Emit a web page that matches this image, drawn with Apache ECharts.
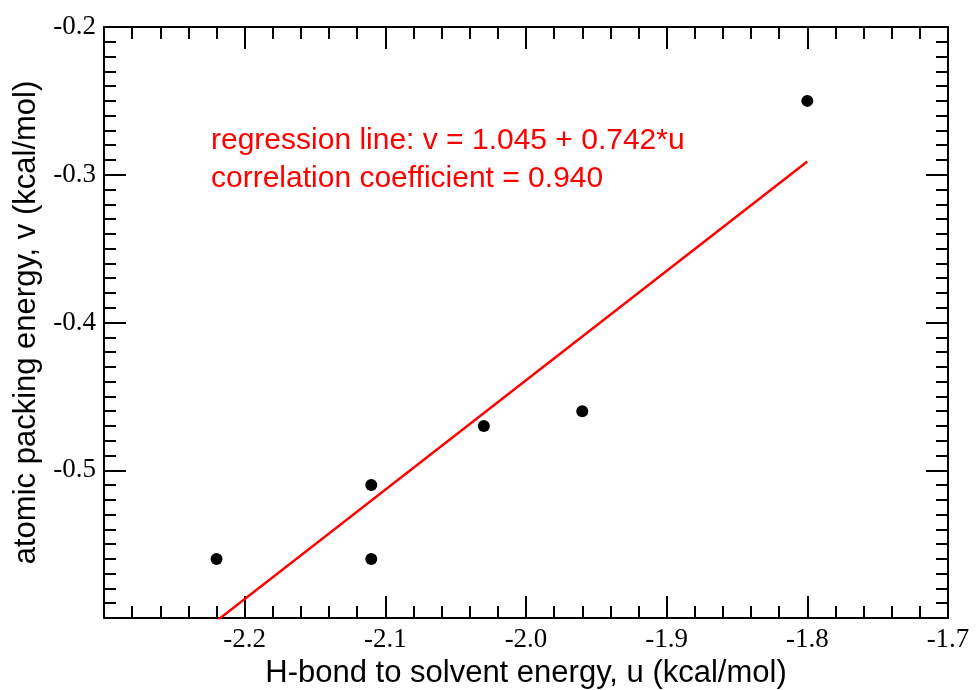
<!DOCTYPE html>
<html>
<head>
<meta charset="utf-8">
<script src="https://cdn.jsdelivr.net/npm/echarts@6/dist/echarts.min.js"></script>
<style>html,body{margin:0;padding:0;background:#fff}#c{width:976px;height:690px}</style>
</head>
<body>
<div id="c"></div>
<script>
// Data points (u, v)
const uValues = [-2.22, -2.11, -2.11, -2.03, -1.96, -1.80];
const vValues = [-0.56, -0.51, -0.56, -0.47, -0.46, -0.25];
// Regression line endpoints
const lineU = [-2.22, -1.80];
const lineV = [-0.602, -0.291];
const xTitle = 'H-bond to solvent energy, u (kcal/mol)';
const yTitle = 'atomic packing energy, v (kcal/mol)';
const annot1 = 'regression line: v = 1.045 + 0.742*u';
const annot2 = 'correlation coefficient = 0.940';

const pts = uValues.map((u, i) => [u, vValues[i]]);
const reg = lineU.map((u, i) => [u, lineV[i]]);

const chart = echarts.init(document.getElementById('c'));
const serif = 'Liberation Serif';
const sans = 'Liberation Sans';
const axisLine = {show: true, lineStyle: {color: '#000', width: 2}};
function xAx(pos, labels) {
  return {
    type: 'value', position: pos, min: -2.3, max: -1.7, interval: 0.1,
    axisLine: axisLine,
    axisTick: {show: true, inside: true, length: 22, lineStyle: {color: '#000', width: 2}},
    minorTick: {show: true, splitNumber: 5, length: 12, lineStyle: {color: '#000', width: 2}},
    splitLine: {show: false}, minorSplitLine: {show: false},
    axisLabel: {show: labels, color: '#000', fontFamily: serif, fontSize: 27, margin: 8,
      formatter: v => v < -2.29 ? '' : v.toFixed(1)},
    name: labels ? xTitle : '', nameLocation: 'middle', nameGap: 34,
    nameTextStyle: {fontFamily: sans, fontSize: 31, color: '#000'}
  };
}
function yAx(pos, labels) {
  return {
    type: 'value', position: pos, min: -0.6, max: -0.2, interval: 0.1,
    axisLine: axisLine,
    axisTick: {show: true, inside: true, length: 22, lineStyle: {color: '#000', width: 2}},
    minorTick: {show: true, splitNumber: 10, length: 12, lineStyle: {color: '#000', width: 2}},
    splitLine: {show: false}, minorSplitLine: {show: false},
    axisLabel: {show: labels, color: '#000', fontFamily: serif, fontSize: 27, margin: 8,
      formatter: v => v < -0.59 ? '' : v.toFixed(1)},
    name: labels ? yTitle : '', nameLocation: 'middle', nameGap: 50, nameRotate: 90,
    nameTextStyle: {fontFamily: sans, fontSize: 31, color: '#000'}
  };
}
chart.setOption({
  animation: false,
  backgroundColor: '#fff',
  grid: {left: 104, top: 27, width: 844, height: 591, containLabel: false, outerBoundsMode: 'none'},
  xAxis: [xAx('bottom', true), xAx('top', false)],
  yAxis: [yAx('left', true), yAx('right', false)],
  graphic: [
    {type: 'text', left: 211, top: 126, style: {text: annot1, fill: '#ff0000', font: '30px "Liberation Sans"'}},
    {type: 'text', left: 211, top: 164, style: {text: annot2, fill: '#ff0000', font: '30px "Liberation Sans"'}}
  ],
  series: [
    {type: 'line', data: reg, xAxisIndex: 0, yAxisIndex: 0, showSymbol: false, symbol: 'none',
      lineStyle: {color: '#ff0000', width: 2.5}, clip: true, z: 2},
    {type: 'scatter', data: pts, xAxisIndex: 0, yAxisIndex: 0, symbol: 'circle', symbolSize: 12,
      itemStyle: {color: '#000', opacity: 1}, z: 3}
  ]
});
</script>
</body>
</html>
